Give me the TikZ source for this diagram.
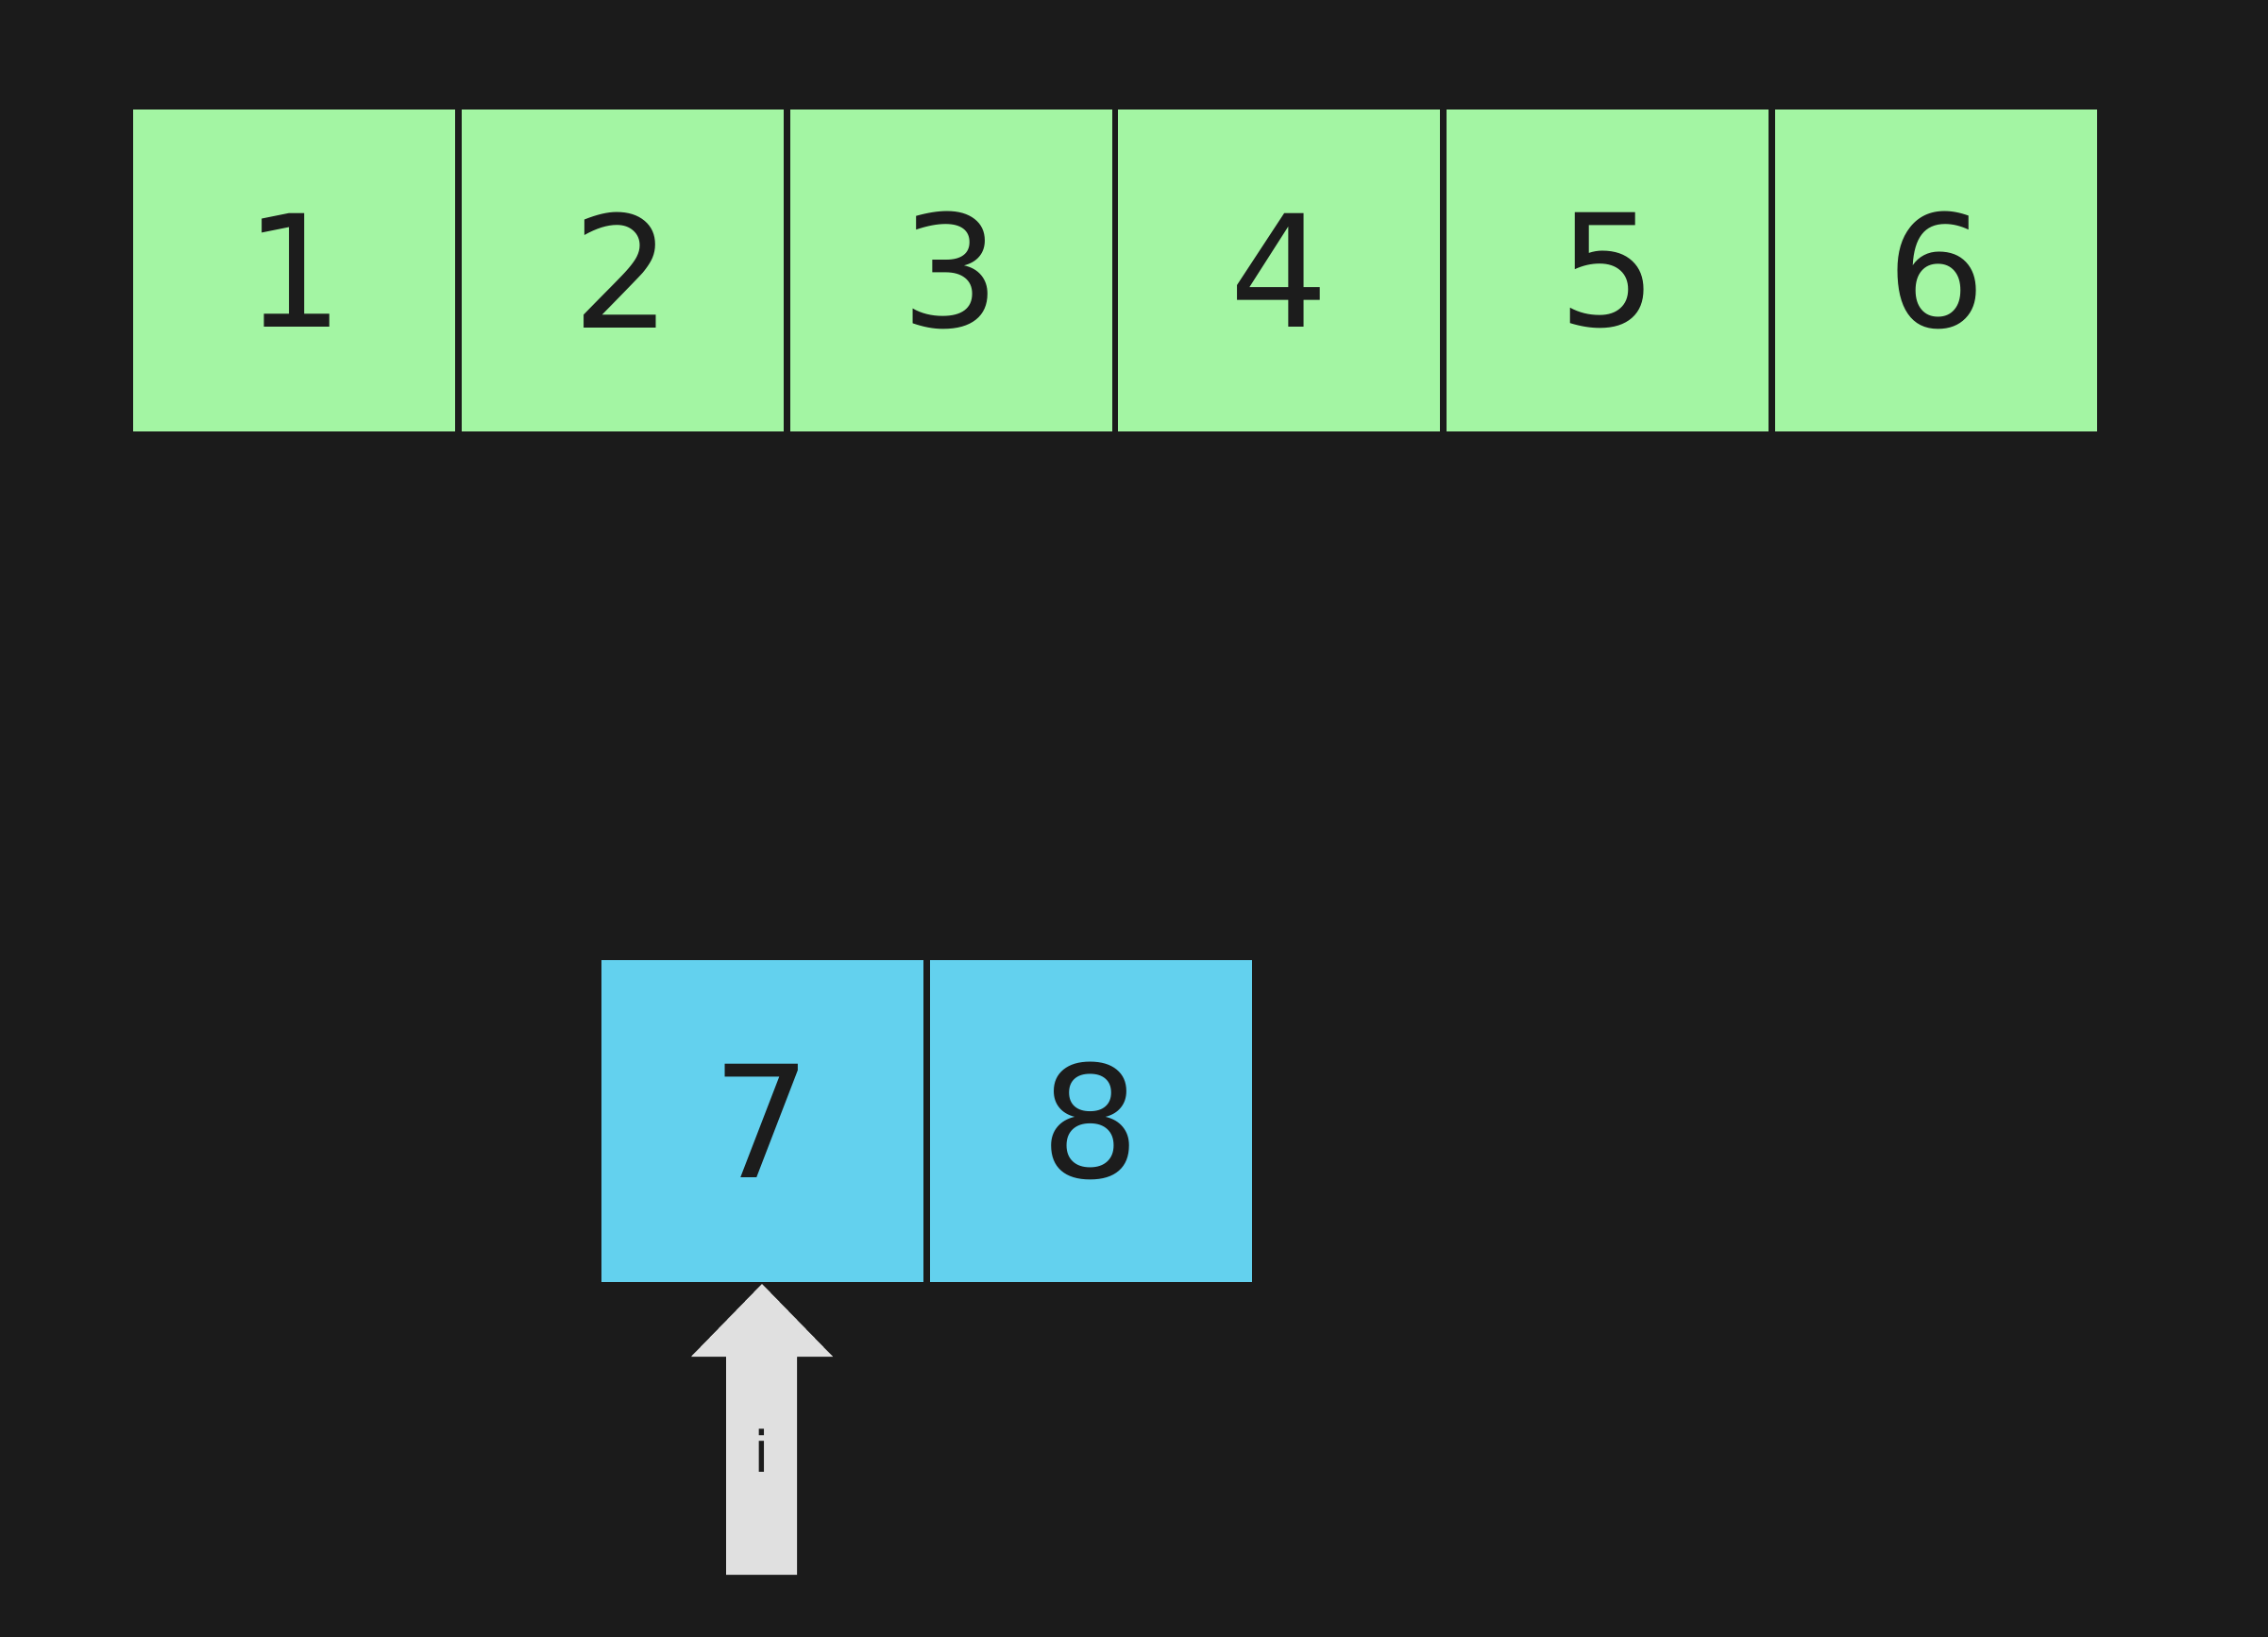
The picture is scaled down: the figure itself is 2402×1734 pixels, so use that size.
\documentclass[tikz,border=0pt]{standalone}
\usepackage{fontspec}
\setmainfont{DejaVu Sans}
\definecolor{bg}{HTML}{1B1B1B}
\definecolor{cellgreen}{HTML}{A3F5A3}
\definecolor{cellblue}{HTML}{63D1EE}
\definecolor{ptr}{HTML}{E0E0E0}
\definecolor{ink}{HTML}{1C1C1C}
\tikzset{
  cellbox/.style={minimum width=341pt, minimum height=341pt, inner sep=0pt, text=ink, font=\fontsize{165}{165}\selectfont},
  greencell/.style={cellbox, fill=cellgreen},
  bluecell/.style={cellbox, fill=cellblue},
  pointer/.style={fill=ptr},
  ptrlabel/.style={text=ink, font=\fontsize{60}{60}\selectfont, inner sep=0pt}
}
\begin{document}
\begin{tikzpicture}[x=1pt,y=-1pt]
\fill[bg] (0,0) rectangle (2402,1734);
\useasboundingbox (0,0) rectangle (2402,1734);
\node[greencell] (c1) at (311.5,286.5) {1};
\node[greencell] (c2) at (659.3,286.5) {2};
\node[greencell] (c3) at (1007.1,286.5) {3};
\node[greencell] (c4) at (1354.9,286.5) {4};
\node[greencell] (c5) at (1702.7,286.5) {5};
\node[greencell] (c6) at (2050.5,286.5) {6};
\node[bluecell] (c7) at (807,1187) {7};
\node[bluecell] (c8) at (1155,1187) {8};
\fill[pointer] (807,1360) -- (882,1437) -- (844,1437) -- (844,1668) -- (769,1668) -- (769,1437) -- (732,1437) -- cycle;
\node[ptrlabel] (ilabel) at (807,1537) {i};
\end{tikzpicture}
\end{document}
